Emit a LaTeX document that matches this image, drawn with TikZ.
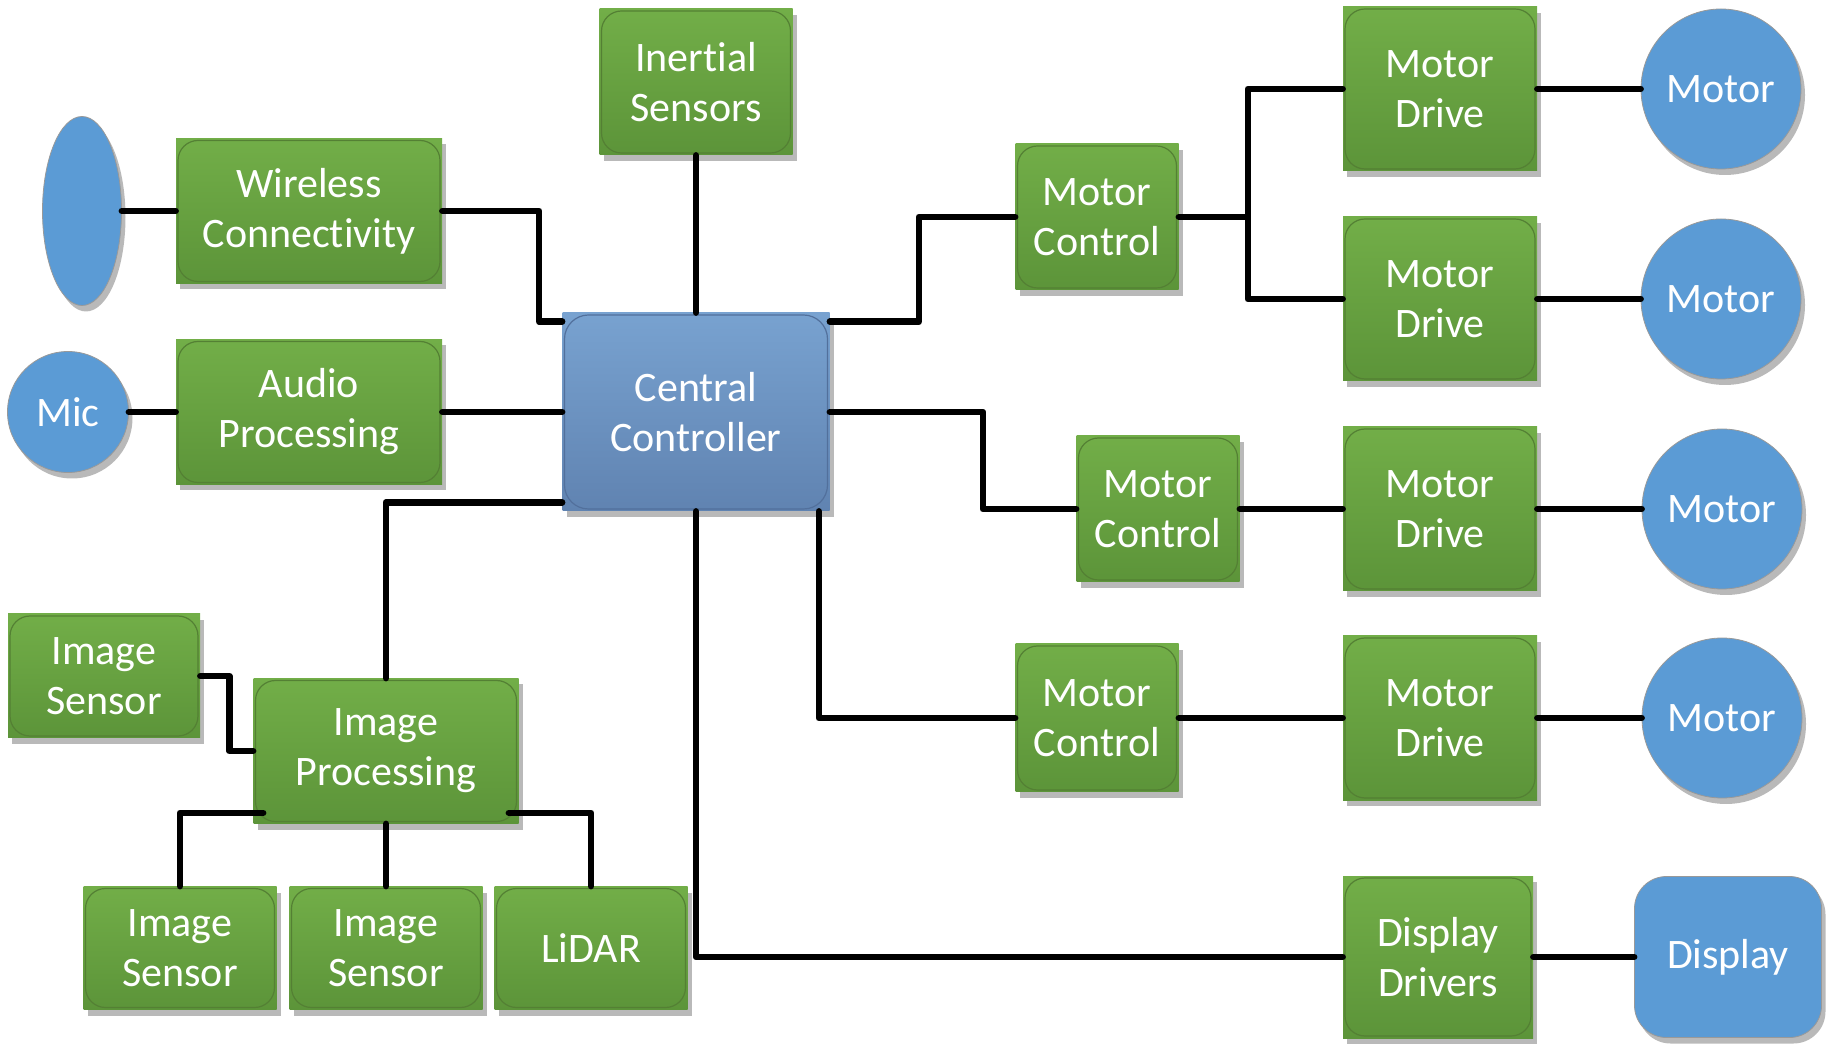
\documentclass[tikz,border=0pt]{standalone}
\usepackage{fontspec}
\setmainfont{Carlito}[Ligatures=NoCommon]
\usetikzlibrary{positioning}
\usetikzlibrary{shapes.geometric}
\usetikzlibrary{shadows}

\definecolor{verdeclaro}{RGB}{114,174,72}
\definecolor{verdeoscuro}{RGB}{92,148,57}
\definecolor{bordeverde}{RGB}{84,128,52}
\definecolor{azulclaro}{RGB}{120,162,208}
\definecolor{azuloscuro}{RGB}{96,131,177}
\definecolor{bordeazul}{RGB}{82,112,156}
\definecolor{azul}{RGB}{91,155,213}

\tikzset{
  texto/.style={text=white, align=center, inner sep=0pt, font=\fontsize{21}{25}\selectfont},
  sombra/.style={drop shadow={shadow xshift=2pt, shadow yshift=-3pt, opacity=0.55}},
  bloque/.style={rectangle, texto, sombra, top color=verdeclaro, bottom color=verdeoscuro,
    path picture={\draw[bordeverde, line width=0.6pt, rounded corners=10pt]
      ([shift={(1pt,1pt)}]path picture bounding box.south west) rectangle
      ([shift={(-1pt,-1pt)}]path picture bounding box.north east);}},
  central/.style={rectangle, texto, sombra, top color=azulclaro, bottom color=azuloscuro,
    path picture={\draw[bordeazul, line width=0.6pt, rounded corners=12pt]
      ([shift={(1pt,1pt)}]path picture bounding box.south west) rectangle
      ([shift={(-1pt,-1pt)}]path picture bounding box.north east);}},
  redondo/.style={circle, texto, sombra, fill=azul, draw=gray!80, line width=0.4pt},
  conexion/.style={line width=3.3pt, line cap=round, line join=round}
}

\begin{document}
\begin{tikzpicture}[x=0.5pt, y=-0.5pt]
  \useasboundingbox (0,0) rectangle (1831,1052);

  % Controlador central
  \node[central, minimum width=133.5pt, minimum height=99pt] (cc) at (696,412) {Central\\Controller};

  % Lado izquierdo
  \node[bloque, minimum width=96.5pt, minimum height=73pt] (ins) at (696,82) {Inertial\\Sensors};
  \node[bloque, minimum width=133pt, minimum height=72.5pt] (wl) at (309,211) {Wireless\\Connectivity};
  \node[bloque, minimum width=133pt, minimum height=72.5pt] (au) at (309,412) {Audio\\Processing};
  \node[ellipse, sombra, fill=azul, draw=gray!80, line width=0.4pt, minimum width=39.5pt, minimum height=94.5pt] (ant) at (82,211) {};
  \node[redondo, minimum size=60.5pt] (mic) at (68,412) {Mic};

  % Imagen
  \node[bloque, minimum width=132.5pt, minimum height=72.5pt] (ip) at (386,751) {Image\\Processing};
  \node[bloque, minimum width=96pt, minimum height=62pt] (isl) at (104,676) {Image\\Sensor};
  \node[bloque, minimum width=96.5pt, minimum height=61.5pt] (isa) at (180,948) {Image\\Sensor};
  \node[bloque, minimum width=96.5pt, minimum height=61.5pt] (isb) at (386,948) {Image\\Sensor};
  \node[bloque, minimum width=96.5pt, minimum height=61.5pt] (li) at (591,948) {LiDAR};

  % Motores
  \node[bloque, minimum width=81.5pt, minimum height=73pt] (mca) at (1097,217) {Motor\\Control};
  \node[bloque, minimum width=81.5pt, minimum height=73pt] (mcb) at (1158,509) {Motor\\Control};
  \node[bloque, minimum width=81.5pt, minimum height=74pt] (mcc) at (1097,718) {Motor\\Control};
  \node[bloque, minimum width=97pt, minimum height=82pt] (mda) at (1440,89) {Motor\\Drive};
  \node[bloque, minimum width=97pt, minimum height=82pt] (mdb) at (1440,299) {Motor\\Drive};
  \node[bloque, minimum width=97pt, minimum height=82pt] (mdc) at (1440,509) {Motor\\Drive};
  \node[bloque, minimum width=97pt, minimum height=82pt] (mdd) at (1440,718) {Motor\\Drive};
  \node[redondo, minimum size=80pt] (ma) at (1721,89) {Motor};
  \node[redondo, minimum size=80pt] (mb) at (1721,299) {Motor};
  \node[redondo, minimum size=80pt] (mcir) at (1722,509) {Motor};
  \node[redondo, minimum size=80pt] (md) at (1722,718) {Motor};

  % Pantalla
  \node[bloque, minimum width=95pt, minimum height=81pt] (dd) at (1438,957) {Display\\Drivers};
  \node[rectangle, rounded corners=16pt, texto, sombra, fill=azul, draw=gray!80, line width=0.4pt,
    minimum width=93.5pt, minimum height=80.5pt] (disp) at (1728,957) {Display};

  % Conexiones
  \draw[conexion] (ant) -- (wl);
  \draw[conexion] (mic) -- (au);
  \draw[conexion] (wl.east) -| ([shift={(-23,9)}]cc.north west) -- ([shift={(0,9)}]cc.north west);
  \draw[conexion] (ins) -- (cc);
  \draw[conexion] (au.east) -- (cc.west);
  \draw[conexion] ([shift={(0,-9)}]cc.south west) -| (ip.north);
  \draw[conexion] (isl.east) -- ++(29,0) |- (ip.west);
  \draw[conexion] ([shift={(10,-11)}]ip.south west) -| (isa.north);
  \draw[conexion] (ip.south) -- (isb.north);
  \draw[conexion] ([shift={(-10,-11)}]ip.south east) -| (li.north);

  \draw[conexion] ([shift={(0,9)}]cc.north east) -- ++(89,0) |- (mca.west);
  \draw[conexion] (cc.east) -- ++(153,0) |- (mcb.west);
  \draw[conexion] ([shift={(-11,0)}]cc.south east) |- (mcc.west);
  \draw[conexion] (cc.south) |- (dd.west);

  \draw[conexion] (mca.east) -- ++(69,0) coordinate (rama) |- (mda.west);
  \draw[conexion] (rama) |- (mdb.west);
  \draw[conexion] (mcb) -- (mdc);
  \draw[conexion] (mcc) -- (mdd);

  \draw[conexion] (mda) -- (ma);
  \draw[conexion] (mdb) -- (mb);
  \draw[conexion] (mdc) -- (mcir);
  \draw[conexion] (mdd) -- (md);
  \draw[conexion] (dd) -- (disp);
\end{tikzpicture}
\end{document}
